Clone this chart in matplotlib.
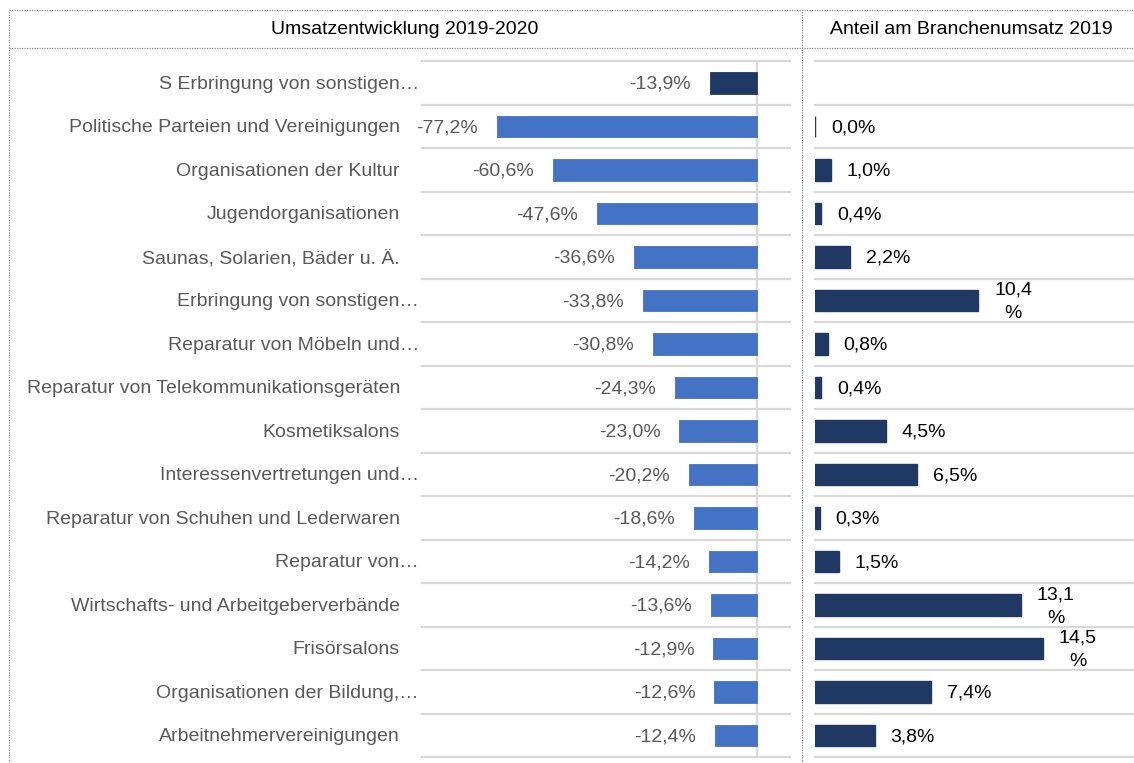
import matplotlib.pyplot as plt
from matplotlib.lines import Line2D

plt.rcParams['font.family'] = ['Liberation Sans', 'DejaVu Sans']

kategorien = [
    "S Erbringung von sonstigen…",
    "Politische Parteien und Vereinigungen",
    "Organisationen der Kultur",
    "Jugendorganisationen",
    "Saunas, Solarien, Bäder u. Ä.",
    "Erbringung von sonstigen…",
    "Reparatur von Möbeln und…",
    "Reparatur von Telekommunikationsgeräten",
    "Kosmetiksalons",
    "Interessenvertretungen und…",
    "Reparatur von Schuhen und Lederwaren",
    "Reparatur von…",
    "Wirtschafts- und Arbeitgeberverbände",
    "Frisörsalons",
    "Organisationen der Bildung,…",
    "Arbeitnehmervereinigungen",
]
umsatz_entwicklung = [-13.9, -77.2, -60.6, -47.6, -36.6, -33.8, -30.8, -24.3,
                      -23.0, -20.2, -18.6, -14.2, -13.6, -12.9, -12.6, -12.4]
# erste Zeile (Summe S) hat keinen Anteil
anteil_2019 = [None, 0.0, 1.0, 0.4, 2.2, 10.4, 0.8, 0.4,
               4.5, 6.5, 0.3, 1.5, 13.1, 14.5, 7.4, 3.8]

blau = '#4472C4'
dunkelblau = '#203864'
grau_gitter = '#D9D9D9'
grau_text = '#595959'
fs = 14

W, H = 1134, 763
fig = plt.figure(figsize=(W / 100, H / 100), dpi=100)


def px_box(x0, x1, y0, y1):
    return [x0 / W, 1 - y1 / H, (x1 - x0) / W, (y1 - y0) / H]


top, bottom = 61.3, 757.3
ax1 = fig.add_axes(px_box(422, 790, top, bottom))
ax2 = fig.add_axes(px_box(815, 1134, top, bottom))

n = len(kategorien)
pos = list(range(n))

# linkes Diagramm: Umsatzentwicklung
farben = [dunkelblau] + [blau] * (n - 1)
ax1.barh(pos, umsatz_entwicklung, height=0.5, color=farben,
         edgecolor=farben, linewidth=0.6, zorder=3)
ax1.set_xlim(-99.6, 9.9)
for i, v in enumerate(umsatz_entwicklung):
    ax1.annotate(f"{v:.1f}%".replace('.', ','), xy=(v, i), xytext=(-19 * 0.72, -1),
                 textcoords='offset points', ha='right', va='center',
                 fontsize=fs, color=grau_text)
    rechts = 419 if kategorien[i].endswith('…') else 400
    ax1.annotate(kategorien[i], xy=(0, i), xycoords=('axes fraction', 'data'),
                 xytext=((rechts - 422) * 0.72, -1), textcoords='offset points',
                 ha='right', va='center', fontsize=fs, color=grau_text,
                 annotation_clip=False)
ax1.axvline(0, color=grau_gitter, lw=1.6, zorder=2)

# rechtes Diagramm: Anteil am Branchenumsatz
for i, v in enumerate(anteil_2019):
    if v is None:
        continue
    ax2.barh(i, v, height=0.5, color=dunkelblau, edgecolor=dunkelblau,
             linewidth=1.0, zorder=3)
    txt = f"{v:.1f}".replace('.', ',')
    txt = txt + "\n%" if v >= 10 else txt + "%"
    ax2.annotate(txt, xy=(v, i), xytext=(16 * 0.72, -1),
                 textcoords='offset points', ha='left', va='center',
                 multialignment='center', fontsize=fs, color='black',
                 linespacing=1.5)
ax2.set_xlim(0, 20.3)

for ax in (ax1, ax2):
    ax.set_ylim(n - 0.5, -0.5)
    for g in range(n + 1):
        ax.axhline(g - 0.5, color=grau_gitter, lw=1.6, zorder=1, clip_on=False)
    ax.set_xticks([])
    ax.set_yticks([])
    for s in ax.spines.values():
        s.set_visible(False)
    ax.patch.set_alpha(0)

# Tabellenrahmen, gepunktet
rahmen = dict(color='#8C8C8C', lw=0.9, linestyle=(0, (1, 1)))
fig.add_artist(Line2D([8.5 / W, 1], [1 - 10 / H] * 2, **rahmen))
fig.add_artist(Line2D([8.5 / W, 1], [1 - 48 / H] * 2, **rahmen))
fig.add_artist(Line2D([8.5 / W] * 2, [0, 1 - 10 / H], **rahmen))
fig.add_artist(Line2D([802 / W] * 2, [0, 1 - 10 / H], **rahmen))

fig.text(405 / W, 1 - 29 / H, "Umsatzentwicklung 2019-2020", ha='center',
         va='center', fontsize=fs, color='black')
fig.text(971 / W, 1 - 29 / H, "Anteil am Branchenumsatz 2019", ha='center',
         va='center', fontsize=fs, color='black')

fig.savefig('out.png', dpi=100)
